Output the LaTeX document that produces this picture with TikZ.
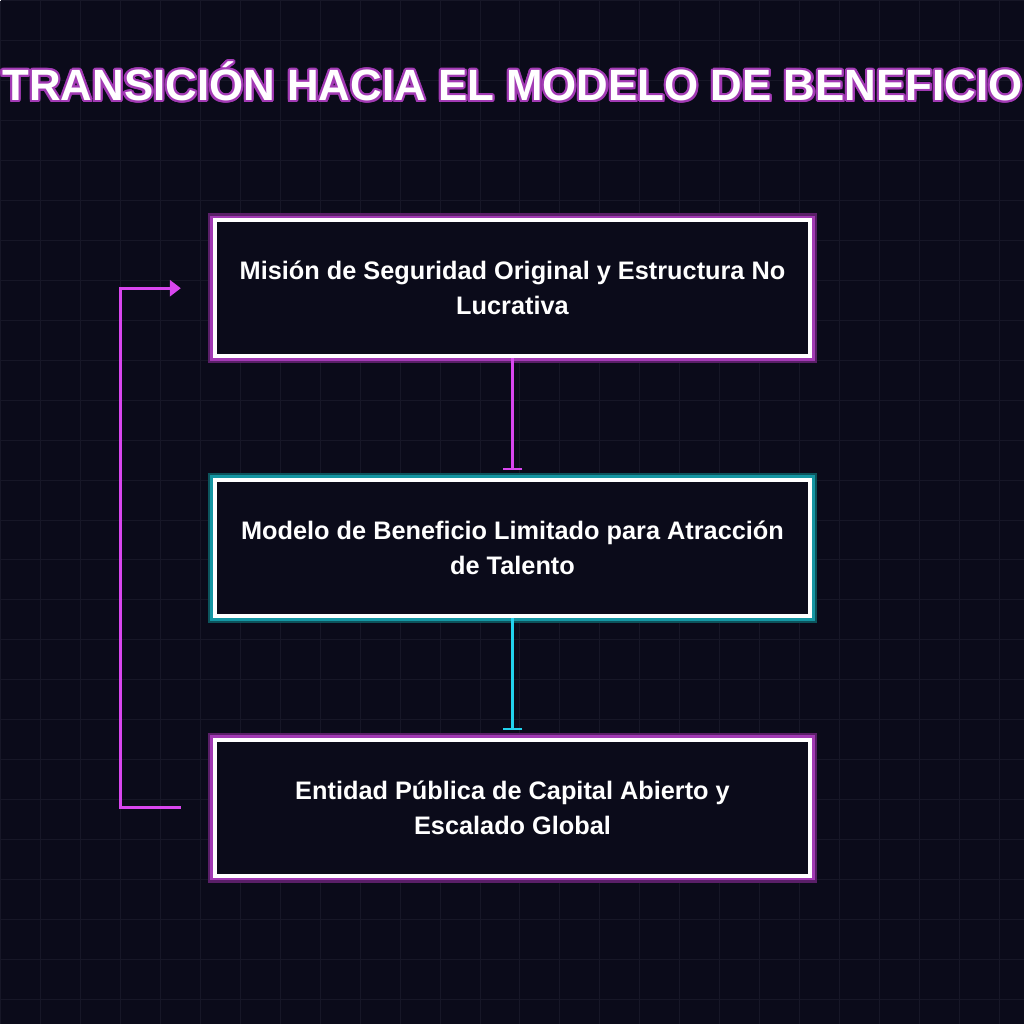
\documentclass[tikz,border=0pt]{standalone}
\usepackage{fontspec}
\setmainfont{Liberation Sans}
\usepackage[copies]{contour}
\usetikzlibrary{arrows.meta}

\definecolor{bgdark}{HTML}{0B0B1A}
\definecolor{gridline}{HTML}{171727}
\definecolor{neonpink}{HTML}{D946EF}
\definecolor{neoncyan}{HTML}{22D3EE}
\definecolor{glowpink}{HTML}{A23AB4}
\definecolor{glowpinkdim}{HTML}{5A1F68}
\definecolor{glowcyan}{HTML}{1596A3}
\definecolor{glowcyandim}{HTML}{0C545C}

\contourlength{1.6pt}

\tikzset{
    stage/.style={rectangle, draw=white, line width=3pt, fill=bgdark, text=white,
        font=\bfseries\fontsize{19}{26.25}\selectfont, align=center,
        minimum width=447pt, minimum height=102pt, inner sep=0pt},
    pinkglow/.style={preaction={draw=glowpinkdim, line width=10.5pt},
        preaction={draw=glowpink, line width=7pt}},
    cyanglow/.style={preaction={draw=glowcyandim, line width=10.5pt},
        preaction={draw=glowcyan, line width=7pt}},
    link/.style={line width=2.25pt, -{Bar[width=15pt, line width=1.5pt]}, shorten >=6pt},
    loopline/.style={line width=2.25pt, draw=neonpink, -{Triangle[length=8.25pt, width=12pt]}}
}

\begin{document}
\begin{tikzpicture}[x=0.75pt, y=-0.75pt]

    % BACKGROUND AND GRID
    \fill[bgdark] (0,0) rectangle (1024,1024);
    \draw[gridline, line width=0.75pt, step=30pt] (0,0) grid (1024,1024);
    \useasboundingbox (0,0) rectangle (1024,1024);

    % TITLE
    \node[text=white, font=\bfseries\fontsize{32.9}{38}\selectfont] (title) at (512.5,82)
        {\contour{glowpink}{TRANSICIÓN HACIA EL MODELO DE BENEFICIO}};

    % STAGE NODES
    \node[stage, pinkglow] (mission) at (512.5,288)
        {Misión de Seguridad Original y Estructura No\\ Lucrativa};
    \node[stage, cyanglow] (capped) at (512.5,548)
        {Modelo de Beneficio Limitado para Atracción\\ de Talento};
    \node[stage, pinkglow] (public) at (512.5,808)
        {Entidad Pública de Capital Abierto y\\ Escalado Global};

    % DOWNWARD LINKS
    \draw[link, neonpink] (mission.south) -- (capped.north);
    \draw[link, neoncyan] (capped.south) -- (public.north);

    % FEEDBACK LOOP
    \coordinate (loopfrom) at ([xshift=-24pt]public.west);
    \coordinate (loopto) at ([xshift=-24pt]mission.west);
    \draw[loopline] (loopfrom) -- ++(-60,0) |- (loopto);

\end{tikzpicture}
\end{document}
